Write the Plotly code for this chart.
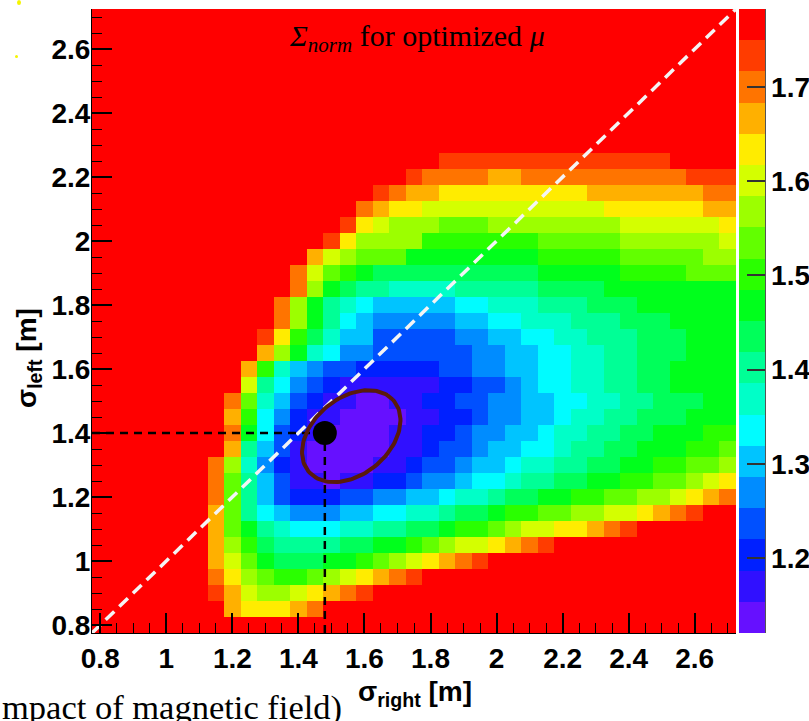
import plotly.graph_objects as go

# ---------------- data ----------------
X_BINS = [0.80, 0.85, 0.90, 0.95, 1.00, 1.05, 1.10, 1.15, 1.20, 1.25, 1.30, 1.35, 1.40,
          1.45, 1.50, 1.55, 1.60, 1.65, 1.70, 1.75, 1.80, 1.85, 1.90, 1.95, 2.00, 2.05,
          2.10, 2.15, 2.20, 2.25, 2.30, 2.35, 2.40, 2.45, 2.50, 2.55, 2.60, 2.65, 2.70]
Y_BINS = list(X_BINS)

Z_MIN, Z_MAX, N_LEVELS = 1.1205, 1.7825, 20
LEVEL_CODES = "0123456789abcdefghij"          # 0 = lowest contour, j = highest
LEVEL_COLORS = ["#6610ff", "#3010ff", "#0020ff", "#0050ff", "#008cff", "#00c4ff",
                "#00fcff", "#00ffc8", "#00ff96", "#00ff5a", "#00ff1c", "#2aff00",
                "#62ff00", "#9cff00", "#d4ff00", "#ffec00", "#ffb000", "#ff7400",
                "#ff3c00", "#ff0000"]

# contour level of each cell, run-length coded ("level*count"), top row (y=2.70) first
ROWS = [
    "j*39", "j*39", "j*39", "j*39", "j*39", "j*39", "j*39", "j*39", "j*39",
    "j*21 i*14 j*4",                                              # 2.25
    "j*19 i*1 h*4 g*2 h*10 i*3",                                  # 2.20
    "j*17 i*1 h*1 g*2 f*9 g*7 h*2",                               # 2.15
    "j*16 h*1 g*1 f*2 e*11 f*6 g*2",                              # 2.10
    "j*15 i*1 f*1 e*1 d*3 c*3 d*8 e*6 f*1",                       # 2.05
    "j*14 i*1 f*1 d*4 b*7 c*5 d*6 e*1",                           # 2.00
    "j*13 g*1 e*1 d*1 c*3 a*8 b*5 c*5 d*2",                       # 1.95
    "j*12 h*1 e*1 c*1 b*1 a*1 9*10 a*5 b*4 c*3",                  # 1.90
    "j*12 h*1 d*1 a*1 9*1 8*2 7*4 8*5 9*4 a*8",                   # 1.85
    "j*11 h*1 d*1 a*1 8*1 7*1 6*1 5*5 6*2 7*3 8*3 9*3 a*6",       # 1.80
    "j*11 h*1 d*1 a*1 8*1 6*1 5*1 4*5 5*2 6*2 7*3 8*3 9*3 a*4",   # 1.75
    "j*10 i*1 f*1 b*1 9*1 7*1 5*2 3*5 4*2 5*2 6*2 7*2 8*3 9*3 a*3",  # 1.70
    "j*10 g*1 d*1 a*1 7*1 6*1 4*2 3*6 4*2 5*2 6*2 7*2 8*2 9*3 a*3",  # 1.65
    "j*9 g*1 b*1 7*1 5*1 4*1 3*2 2*5 3*2 4*2 5*2 6*2 7*2 8*2 9*2 a*4",  # 1.60
    "j*9 e*1 8*1 6*1 4*1 3*1 2*1 1*6 2*2 3*2 4*1 5*1 6*2 7*2 8*2 9*2 a*4",  # 1.55
    "j*8 h*1 c*1 7*1 5*1 3*1 2*1 1*2 0*2 1*2 2*2 3*2 4*2 5*2 6*2 7*2 8*2 9*3 a*2",
    "j*8 g*1 b*1 6*1 4*1 2*1 1*2 0*4 1*2 2*2 3*1 4*2 5*2 6*1 7*2 8*2 9*3 a*3",
    "j*8 h*1 a*1 6*1 3*1 2*1 1*1 0*4 1*2 2*2 3*1 4*2 5*2 6*1 7*2 8*2 9*2 a*3 b*2",
    "j*8 g*1 8*1 5*1 3*1 1*1 0*5 1*2 2*1 3*2 4*1 5*2 6*2 7*1 8*2 9*2 a*3 b*2 c*1",
    "j*7 h*1 d*1 7*1 4*1 2*1 1*1 0*4 1*2 2*1 3*2 4*1 5*2 6*1 7*2 8*2 9*2 a*2 b*2 c*2 d*1",
    "j*7 h*1 c*1 8*1 5*1 3*1 1*2 0*1 1*2 2*2 3*1 4*2 5*1 6*2 7*1 8*2 9*2 a*2 b*2 c*2 d*1 e*1 f*1",
    "j*7 h*1 c*1 8*1 5*1 3*1 2*3 3*2 4*2 5*2 6*1 7*2 8*1 9*2 a*2 b*2 c*2 d*2 e*1 f*1 g*1 h*1",
    "j*7 g*1 c*1 8*1 6*1 5*1 4*3 5*2 6*2 7*2 8*1 9*2 a*1 b*2 c*2 d*2 e*2 f*1 g*1 h*1 i*1 j*2",
    "j*7 g*1 c*1 a*1 8*1 7*1 6*3 7*2 8*2 9*2 a*1 b*2 c*1 d*1 e*2 f*2 g*1 h*1 i*1 j*6",
    "j*7 g*1 d*1 b*1 9*1 8*4 9*2 a*2 b*1 c*1 d*1 e*2 f*1 g*1 h*1 i*1 j*11",
    "j*7 g*1 e*1 c*1 a*1 9*3 a*2 b*1 c*1 d*1 e*1 f*1 g*1 h*1 i*1 j*15",
    "j*7 h*1 f*1 d*1 c*1 b*2 c*1 d*1 e*1 f*1 g*1 h*1 i*1 j*19",
    "j*7 i*1 g*1 e*1 d*2 e*1 f*1 g*1 h*1 i*1 j*22",
    "j*8 g*1 f*3 g*1 h*1 j*25",
    "j*39",
]

BEST_POINT = (1.48, 1.40)                    # (sigma_right, sigma_left)
ELLIPSE = dict(cx=1.56, cy=1.39, a=0.170, b=0.118, angle_deg=42.0)
AXIS_RANGE = [0.775, 2.725]

# ---------------- build ----------------
import math

def decode(rle):
    s = ""
    for tok in rle.split():
        ch, n = tok.split("*")
        s += ch * int(n)
    s = (s + "j" * 39)[:39]
    return s

step = (Z_MAX - Z_MIN) / N_LEVELS
z = []
for r in reversed(ROWS):
    z.append([Z_MIN + (LEVEL_CODES.index(ch) + 0.5) * step for ch in decode(r)])

colorscale = []
for k, c in enumerate(LEVEL_COLORS):
    colorscale.append([k / N_LEVELS, c])
    colorscale.append([(k + 1) / N_LEVELS, c])

L, R, T, B = 92, 73, 9, 88
W, H = 809, 721
pw, ph = W - L - R, H - T - B

def px(xp):
    return (xp - L) / pw

def py(yp):
    return (H - B - yp) / ph

tickfont = dict(family="Liberation Sans, Arial, sans-serif", size=28, color="black", weight="bold")

fig = go.Figure()
fig.add_trace(go.Heatmap(
    x=X_BINS, y=Y_BINS, z=z, zmin=Z_MIN, zmax=Z_MAX, colorscale=colorscale,
    zsmooth=False, hoverinfo="skip",
    colorbar=dict(
        x=px(739), xanchor="left", xpad=0, ypad=0, y=0.5, yanchor="middle",
        len=1, lenmode="fraction", thickness=26, thicknessmode="pixels",
        outlinewidth=0, tick0=1.2, dtick=0.1, ticks="inside", ticklen=18,
        tickwidth=1.5, tickcolor="#333333", tickfont=tickfont,
    ),
))

# white dashed diagonal
fig.add_trace(go.Scatter(x=AXIS_RANGE, y=AXIS_RANGE, mode="lines",
                         line=dict(color="#f4f4f4", width=3.5, dash="12px,7px"),
                         hoverinfo="skip", showlegend=False))
# black dashed guides
fig.add_trace(go.Scatter(x=[AXIS_RANGE[0], BEST_POINT[0]], y=[BEST_POINT[1], BEST_POINT[1]],
                         mode="lines", line=dict(color="black", width=2.5, dash="8px,6px"),
                         hoverinfo="skip", showlegend=False))
fig.add_trace(go.Scatter(x=[BEST_POINT[0], BEST_POINT[0]], y=[AXIS_RANGE[0], BEST_POINT[1]],
                         mode="lines", line=dict(color="black", width=2.5, dash="8px,6px"),
                         hoverinfo="skip", showlegend=False))
# ellipse
n = 120
th = math.radians(ELLIPSE["angle_deg"])
ex, ey = [], []
for i in range(n + 1):
    t = 2 * math.pi * i / n
    u, v = ELLIPSE["a"] * math.cos(t), ELLIPSE["b"] * math.sin(t)
    ex.append(ELLIPSE["cx"] + u * math.cos(th) - v * math.sin(th))
    ey.append(ELLIPSE["cy"] + u * math.sin(th) + v * math.cos(th))
fig.add_trace(go.Scatter(x=ex, y=ey, mode="lines", line=dict(color="#5a1a0c", width=4),
                         hoverinfo="skip", showlegend=False))
# best point
fig.add_trace(go.Scatter(x=[BEST_POINT[0]], y=[BEST_POINT[1]], mode="markers",
                         marker=dict(color="black", size=24), hoverinfo="skip", showlegend=False))

axis_common = dict(range=AXIS_RANGE, tick0=0.8, dtick=0.2, ticks="inside", ticklen=20,
                   tickwidth=1.5, tickcolor="black", showline=True, linecolor="black",
                   linewidth=1, mirror=False, showgrid=False, zeroline=False,
                   tickfont=tickfont,
                   minor=dict(dtick=0.05, ticks="inside", ticklen=10, tickwidth=1.2,
                              tickcolor="black", showgrid=False))

fig.update_layout(
    width=W, height=H, margin=dict(l=L, r=R, t=T, b=B, autoexpand=False),
    paper_bgcolor="white", plot_bgcolor="white", showlegend=False,
    xaxis=dict(**axis_common),
    yaxis=dict(**axis_common, ticklabelstandoff=-5),
    annotations=[
        dict(text="<i>Σ</i><sub><i>norm</i></sub> for optimized <i>μ</i>",
             xref="paper", yref="paper", x=px(417), y=py(38), showarrow=False,
             xanchor="center", yanchor="middle",
             font=dict(family="Liberation Serif, Times New Roman, serif", size=30, color="black")),
        dict(text="<b>σ<sub>right</sub> [m]</b>", xref="paper", yref="paper",
             x=px(415), y=py(693), showarrow=False, xanchor="center", yanchor="middle",
             font=dict(family="Liberation Sans, Arial, sans-serif", size=28, color="black")),
        dict(text="<b>σ<sub>left</sub> [m]</b>", xref="paper", yref="paper",
             x=px(28), y=py(358), showarrow=False, xanchor="center", yanchor="middle",
             textangle=-90,
             font=dict(family="Liberation Sans, Arial, sans-serif", size=28, color="black")),
        dict(text="mpact of magnetic field)", xref="paper", yref="paper",
             x=px(0), y=py(707), showarrow=False, xanchor="left", yanchor="middle",
             font=dict(family="Liberation Serif, Times New Roman, serif", size=34.5, color="black")),
    ],
    shapes=[
        dict(type="line", xref="paper", yref="paper", x0=px(765.5), x1=px(765.5), y0=0, y1=1,
             line=dict(color="#555555", width=1)),
        dict(type="circle", xref="paper", yref="paper", x0=px(17), x1=px(21), y0=py(5), y1=py(0),
             fillcolor="#f5f500", line=dict(width=0)),
        dict(type="circle", xref="paper", yref="paper", x0=px(15), x1=px(18), y0=py(58), y1=py(55),
             fillcolor="#f5f500", line=dict(width=0)),
    ],
)

fig.write_html("out.html")
